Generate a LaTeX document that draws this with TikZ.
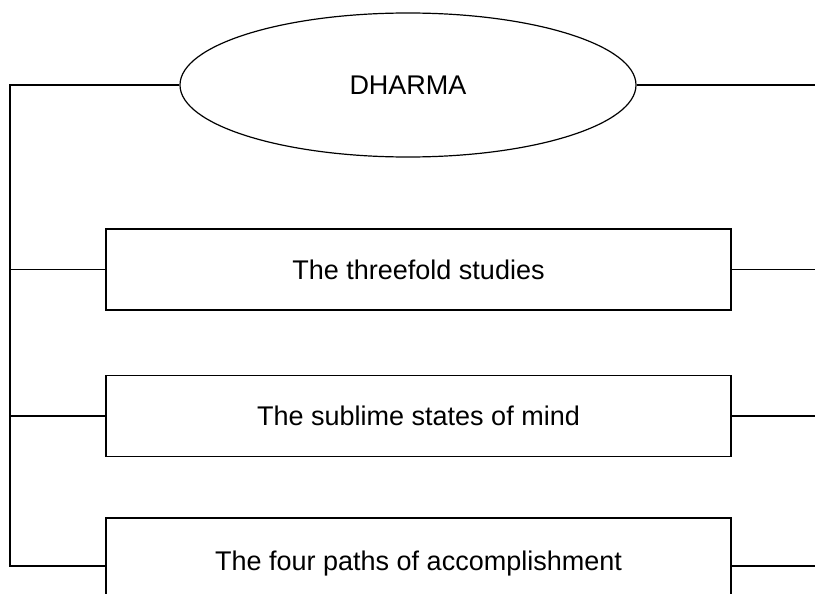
\documentclass[tikz,border=0pt]{standalone}
\usepackage{fontspec}
\setmainfont{Liberation Sans}
\usetikzlibrary{shapes.geometric}
\begin{document}
\begin{tikzpicture}[x=1pt,y=-1pt,
  line/.style={line width=1.2pt,black},
  boxnode/.style={draw,line width=1.2pt,rectangle,minimum width=625pt,minimum height=81pt,inner sep=0pt,font=\fontsize{27}{32}\selectfont},
  ovalnode/.style={draw,line width=1.2pt,ellipse,minimum width=456pt,minimum height=144pt,inner sep=0pt,font=\fontsize{27}{32}\selectfont}]
\useasboundingbox (0,0) rectangle (815,594);
\clip (0,0) rectangle (815,594);
\node[ovalnode] (dh) at (408,85) {DHARMA};
\node[boxnode] (b1) at (418.5,269.5) {The threefold studies};
\node[boxnode] (b2) at (418.5,416) {The sublime states of mind};
\node[boxnode,minimum height=96pt] (b3) at (418.5,566) {\raisebox{10pt}{The four paths of accomplishment}};
\coordinate (l0) at (10,85);
\coordinate (l3) at (10,566);
\draw[line] (dh.west) -- (l0) -- (l3) -- (b3.west);
\draw[line] (b1.west) -- (b1.west -| l0);
\draw[line] (b2.west) -- (b2.west -| l0);
\coordinate (r0) at (820,85);
\draw[line] (dh.east) -- (r0);
\draw[line] (b1.east) -- (b1.east -| r0);
\draw[line] (b2.east) -- (b2.east -| r0);
\draw[line] (b3.east) -- (b3.east -| r0);
\end{tikzpicture}
\end{document}
